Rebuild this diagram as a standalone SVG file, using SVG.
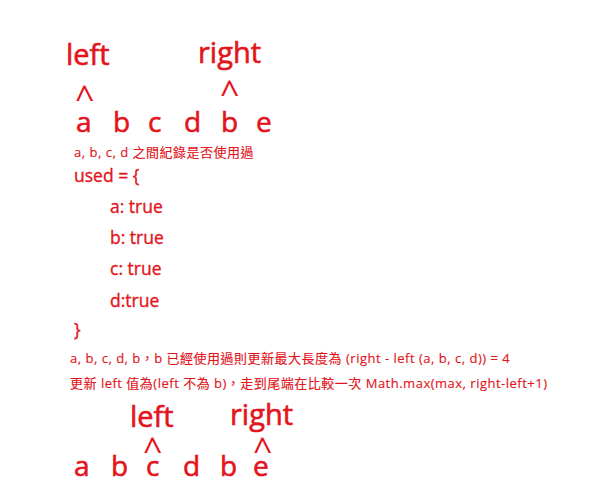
<svg xmlns="http://www.w3.org/2000/svg" width="600" height="500" viewBox="0 0 600 500">
<style>
text{fill:#e3141b;font-family:"Open Sans","Noto Sans CJK TC",sans-serif}
.big{font-size:29px;stroke:#e3141b;stroke-width:0.6px}
.car{font-size:34px}
.let{font-size:28px;stroke:#e3141b;stroke-width:0.6px}
.sm{font-size:13px;letter-spacing:0.5px;stroke:#e3141b;stroke-width:0.15px}
.md{font-size:17.5px;stroke:#e3141b;stroke-width:0.35px}
</style>
<rect width="600" height="500" fill="#fff"/>
<text class="big" x="66" y="65">left</text>
<text class="big" x="198" y="63">right</text>
<text class="car" x="75" y="110">^</text>
<text class="car" x="220" y="105">^</text>
<text class="let" x="76" y="132">a</text>
<text class="let" x="113" y="132">b</text>
<text class="let" x="148" y="132">c</text>
<text class="let" x="184" y="132">d</text>
<text class="let" x="221" y="132">b</text>
<text class="let" x="256" y="132">e</text>
<text class="sm" x="74" y="157">a, b, c, d 之間紀錄是否使用過</text>
<text class="md" x="74" y="182">used = {</text>
<text class="md" x="110" y="213">a: true</text>
<text class="md" x="110" y="244">b: true</text>
<text class="md" x="110" y="275">c: true</text>
<text class="md" x="110" y="307">d:true</text>
<text class="md" x="74" y="336">}</text>
<text class="sm" x="70" y="363">a, b, c, d, b，b 已經使用過則更新最大長度為 (right - left (a, b, c, d)) = 4</text>
<text class="sm" x="70" y="388">更新 left 值為(left 不為 b)，走到尾端在比較一次 Math.max(max, right-left+1)</text>
<text class="big" x="130" y="427">left</text>
<text class="big" x="230" y="425">right</text>
<text class="car" x="143" y="462">^</text>
<text class="car" x="253" y="462">^</text>
<text class="let" x="74" y="476">a</text>
<text class="let" x="111" y="476">b</text>
<text class="let" x="146" y="476">c</text>
<text class="let" x="183" y="476">d</text>
<text class="let" x="220" y="476">b</text>
<text class="let" x="253" y="476">e</text>
</svg>
